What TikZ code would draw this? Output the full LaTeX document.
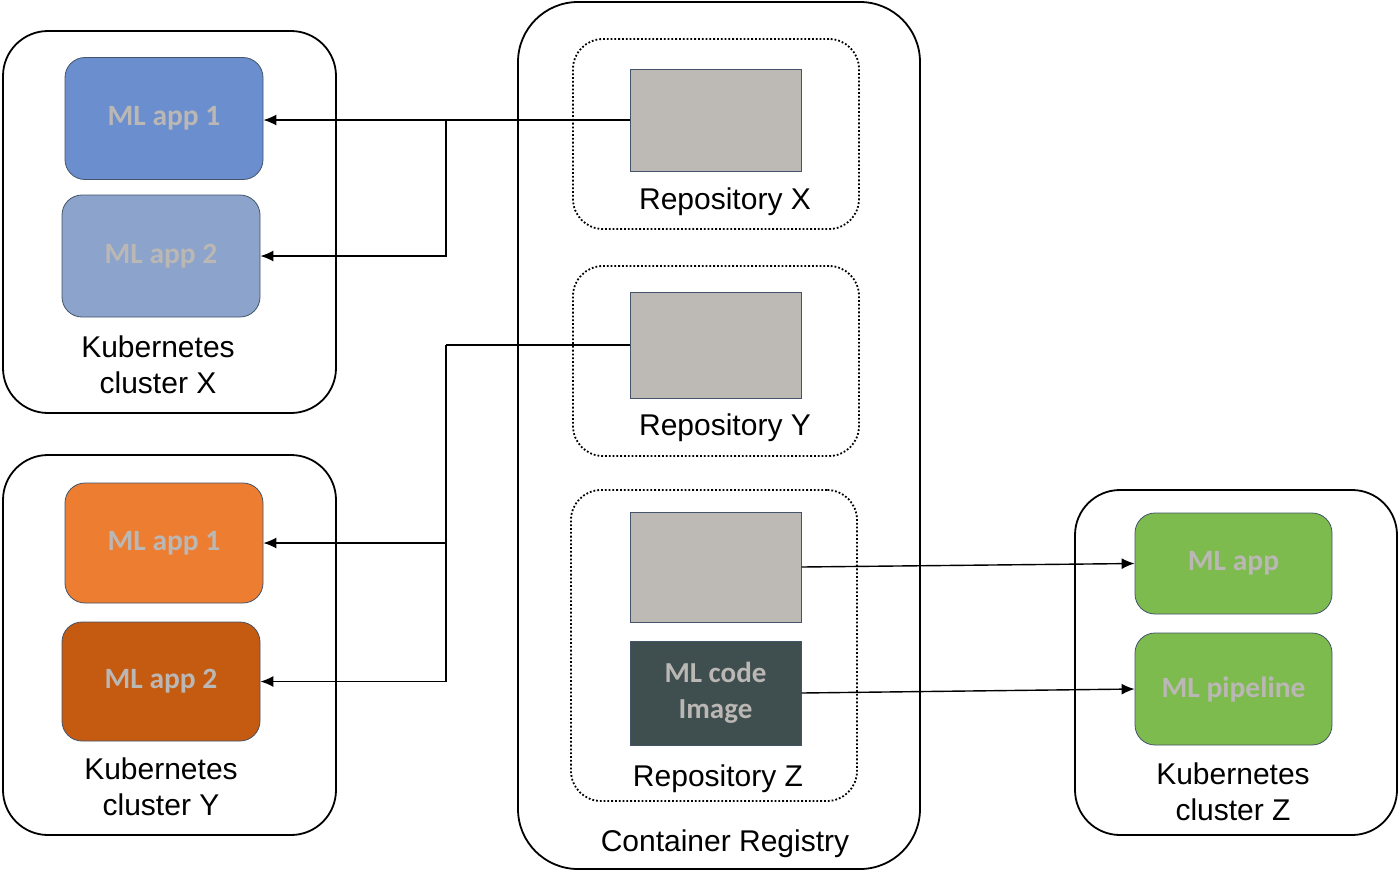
\documentclass[tikz,border=0pt]{standalone}
\usepackage{fontspec}
\setmainfont{Liberation Sans}
\newfontfamily\appfont{Carlito}
\usetikzlibrary{arrows.meta}
\definecolor{blueA}{HTML}{6A8ECE}
\definecolor{blueB}{HTML}{8CA3CB}
\definecolor{orangeA}{HTML}{ED7D31}
\definecolor{orangeB}{HTML}{C55A11}
\definecolor{greenA}{HTML}{7DBB4F}
\definecolor{grayimg}{HTML}{BDB9B5}
\definecolor{darkimg}{HTML}{3F4E4E}
\definecolor{apptext}{HTML}{BAB7B4}
\definecolor{edge}{HTML}{44546A}
\tikzset{
  cluster/.style={draw=black, line width=1.8pt, rounded corners=45pt, inner sep=0pt, fill=white},
  registry/.style={draw=black, line width=1.8pt, rounded corners=60pt, inner sep=0pt},
  repo/.style={draw=black, line width=1.8pt, dotted, rounded corners=30pt, inner sep=0pt},
  app/.style={draw=edge, line width=0.8pt, rounded corners=20pt, inner sep=0pt, text=apptext,
    font=\appfont\bfseries\fontsize{29.5}{34}\selectfont, align=center},
  img/.style={draw=edge, line width=1pt, inner sep=0pt, text=apptext,
    font=\appfont\bfseries\fontsize{29}{36}\selectfont, align=center},
  lbl/.style={inner sep=0pt, align=center, font=\fontsize{30}{36}\selectfont},
  arr/.style={line width=1.4pt, -{Latex[length=13pt,width=11pt]}},
  conn/.style={line width=1.4pt}
}
\begin{document}
\begin{tikzpicture}[x=1pt,y=-1pt]
\useasboundingbox (0,0) rectangle (1400,879);
% outer containers
\node[cluster, minimum width=333pt, minimum height=382pt] (clX) at (169.5,222) {};
\node[cluster, minimum width=333pt, minimum height=380pt] (clY) at (169.5,645) {};
\node[registry, minimum width=402pt, minimum height=867pt] (reg) at (719,435.5) {};
\node[cluster, minimum width=322pt, minimum height=345pt] (clZ) at (1236,662.5) {};
% repositories
\node[repo, minimum width=286pt, minimum height=190pt] (repoX) at (716,134) {};
\node[repo, minimum width=286pt, minimum height=190pt] (repoY) at (716,361) {};
\node[repo, minimum width=286pt, minimum height=311pt] (repoZ) at (714,645.5) {};
% images
\node[img, fill=grayimg, minimum width=171pt, minimum height=102pt] (gX) at (715.5,120) {};
\node[img, fill=grayimg, minimum width=171pt, minimum height=106pt] (gY) at (715.5,345) {};
\node[img, fill=grayimg, minimum width=171pt, minimum height=110pt] (gZ) at (715.5,567) {};
\node[img, fill=darkimg, minimum width=171pt, minimum height=104pt] (code) at (715.5,693) {ML code\\Image};
% apps
\node[app, fill=blueA, minimum width=198pt, minimum height=122pt] (appX1) at (164,118.5) {ML app 1};
\node[app, fill=blueB, minimum width=198pt, minimum height=122pt] (appX2) at (161,256) {ML app 2};
\node[app, fill=orangeA, minimum width=198pt, minimum height=120pt] (appY1) at (164,543) {ML app 1};
\node[app, fill=orangeB, minimum width=198pt, minimum height=119pt] (appY2) at (161,681.5) {ML app 2};
\node[app, fill=greenA, minimum width=197pt, minimum height=101pt] (appZ) at (1233.5,563.5) {ML app};
\node[app, fill=greenA, minimum width=197pt, minimum height=112pt] (pipe) at (1233.5,689) {ML pipeline};
% labels
\node[lbl] (lX) at (158,365) {Kubernetes\\cluster X};
\node[lbl] (lY) at (161,787) {Kubernetes\\cluster Y};
\node[lbl] (lZ) at (1233,791.5) {Kubernetes\\cluster Z};
\node[lbl] (rX) at (725,202) {Repository X};
\node[lbl] (rY) at (725,428) {Repository Y};
\node[lbl] (rZ) at (718,779) {Repository Z};
\node[lbl] (rg) at (725,844) {Container Registry};
% connectors
\coordinate (jX) at (446,120);
\coordinate (jY) at (446,345);
\draw[conn] (gX.west) -- (jX);
\draw[arr] (jX) -- (jX -| appX1.east);
\draw[arr] (jX) |- (appX2.east);
\draw[conn] (gY.west) -- (jY);
\draw[arr] (jY) |- (appY1.east);
\draw[arr] (jY) |- (appY2.east);
\draw[arr] (gZ.east) -- (appZ.west);
\draw[arr] (code.east) -- (pipe.west);
\end{tikzpicture}
\end{document}
